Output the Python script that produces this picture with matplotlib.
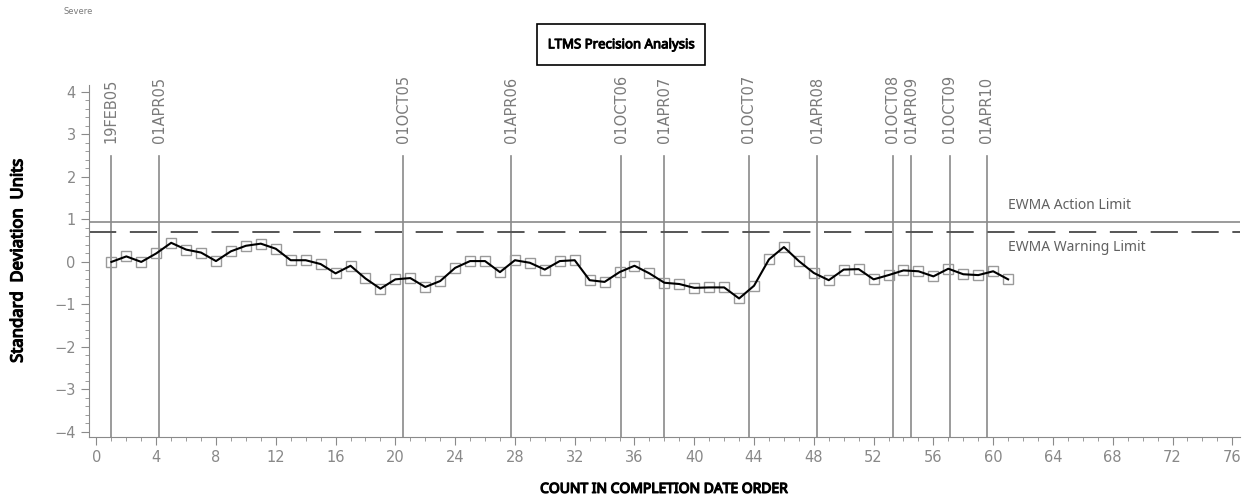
import matplotlib.pyplot as plt
import matplotlib.patheffects as pe
from matplotlib.patches import Rectangle
from matplotlib.ticker import MultipleLocator

# EWMA values by test count
counts = list(range(1, 62))
ewma = [0.00, 0.13, 0.00, 0.20, 0.45, 0.29, 0.22, 0.02, 0.25, 0.38,
        0.43, 0.31, 0.04, 0.04, -0.05, -0.27, -0.09, -0.39, -0.63, -0.41,
        -0.38, -0.59, -0.45, -0.14, 0.02, 0.02, -0.24, 0.04, -0.02, -0.18,
        0.02, 0.04, -0.43, -0.47, -0.24, -0.09, -0.27, -0.49, -0.52, -0.61,
        -0.60, -0.60, -0.86, -0.56, 0.06, 0.35, 0.02, -0.26, -0.43, -0.18,
        -0.17, -0.41, -0.31, -0.20, -0.22, -0.34, -0.16, -0.29, -0.31, -0.22,
        -0.41]

# calendar reference dates, placed on the count axis
date_labels = ["19FEB05", "01APR05", "01OCT05", "01APR06", "01OCT06", "01APR07",
               "01OCT07", "01APR08", "01OCT08", "01APR09", "01OCT09", "01APR10"]
date_pos = [1.0, 4.19, 20.53, 27.76, 35.12, 38.0, 43.66, 48.23, 53.29, 54.51,
            57.08, 59.58]

action_limit = 0.93
warning_limit = 0.71

grey = "#8a8a8a"
textgrey = "#7a7a7a"


def heavy(lw):
    # condensed face, thickened with a stroke for the heavy labels
    return dict(family="Noto Sans", fontstretch="condensed", fontweight="bold",
                path_effects=[pe.withStroke(linewidth=lw, foreground="black")])


fig = plt.figure(figsize=(12.46, 4.98), dpi=100)
ax = fig.add_axes([0.0714, 0.1225, 0.9236, 0.7065])

for x, lab in zip(date_pos, date_labels):
    ax.plot([x, x], [-4.2, 2.5], color=grey, lw=1.2, zorder=1)
    ax.text(x, 2.8, lab, rotation=90, ha="center", va="bottom",
            fontsize=10.5, color=textgrey)

ax.axhline(action_limit, color=grey, lw=1.2, zorder=1)
ax.axhline(warning_limit, color="#555555", lw=1.4, dashes=(14, 7), zorder=1)
ax.text(61, action_limit + 0.22, "EWMA Action Limit", fontsize=10,
        color="#606060", family="Noto Sans", fontstretch="condensed", va="bottom")
ax.text(61, warning_limit - 0.38, "EWMA Warning Limit", fontsize=10,
        color="#606060", family="Noto Sans", fontstretch="condensed", va="center")

ax.plot(counts, ewma, color="black", lw=1.5, zorder=3)
ax.plot(counts, ewma, ls="none", marker="s", ms=7, mfc="none",
        mec="#9a9a9a", mew=1.0, zorder=2)

ax.set_xlim(-0.5, 76.5)
ax.set_ylim(-4.12, 4.16)
ax.xaxis.set_major_locator(MultipleLocator(4))
ax.xaxis.set_minor_locator(MultipleLocator(1))
ax.yaxis.set_major_locator(MultipleLocator(1))
ax.yaxis.set_minor_locator(MultipleLocator(0.2))
ax.tick_params(which="both", colors=grey, labelcolor="#888888", labelsize=10.5)
ax.tick_params(which="major", length=6)
ax.tick_params(which="minor", length=3)
for s in ("top", "right"):
    ax.spines[s].set_visible(False)
for s in ("left", "bottom"):
    ax.spines[s].set_color(grey)

ax.set_ylabel("Standard  Deviation  Units", fontsize=12, labelpad=20, **heavy(0.9))
ax.set_xlabel("COUNT IN COMPLETION DATE ORDER", fontsize=10, labelpad=12,
              **heavy(0.9))

# title box
fig.patches.append(Rectangle((0.431, 0.869), 0.135, 0.082, transform=fig.transFigure,
                             fill=False, ec="black", lw=1.2))
fig.text(0.4985, 0.91, "LTMS Precision Analysis", ha="center", va="center",
         fontsize=9.5, **heavy(0.7))
fig.text(0.051, 0.985, "Severe", fontsize=6, color=textgrey, va="top")

fig.savefig("out.png")
